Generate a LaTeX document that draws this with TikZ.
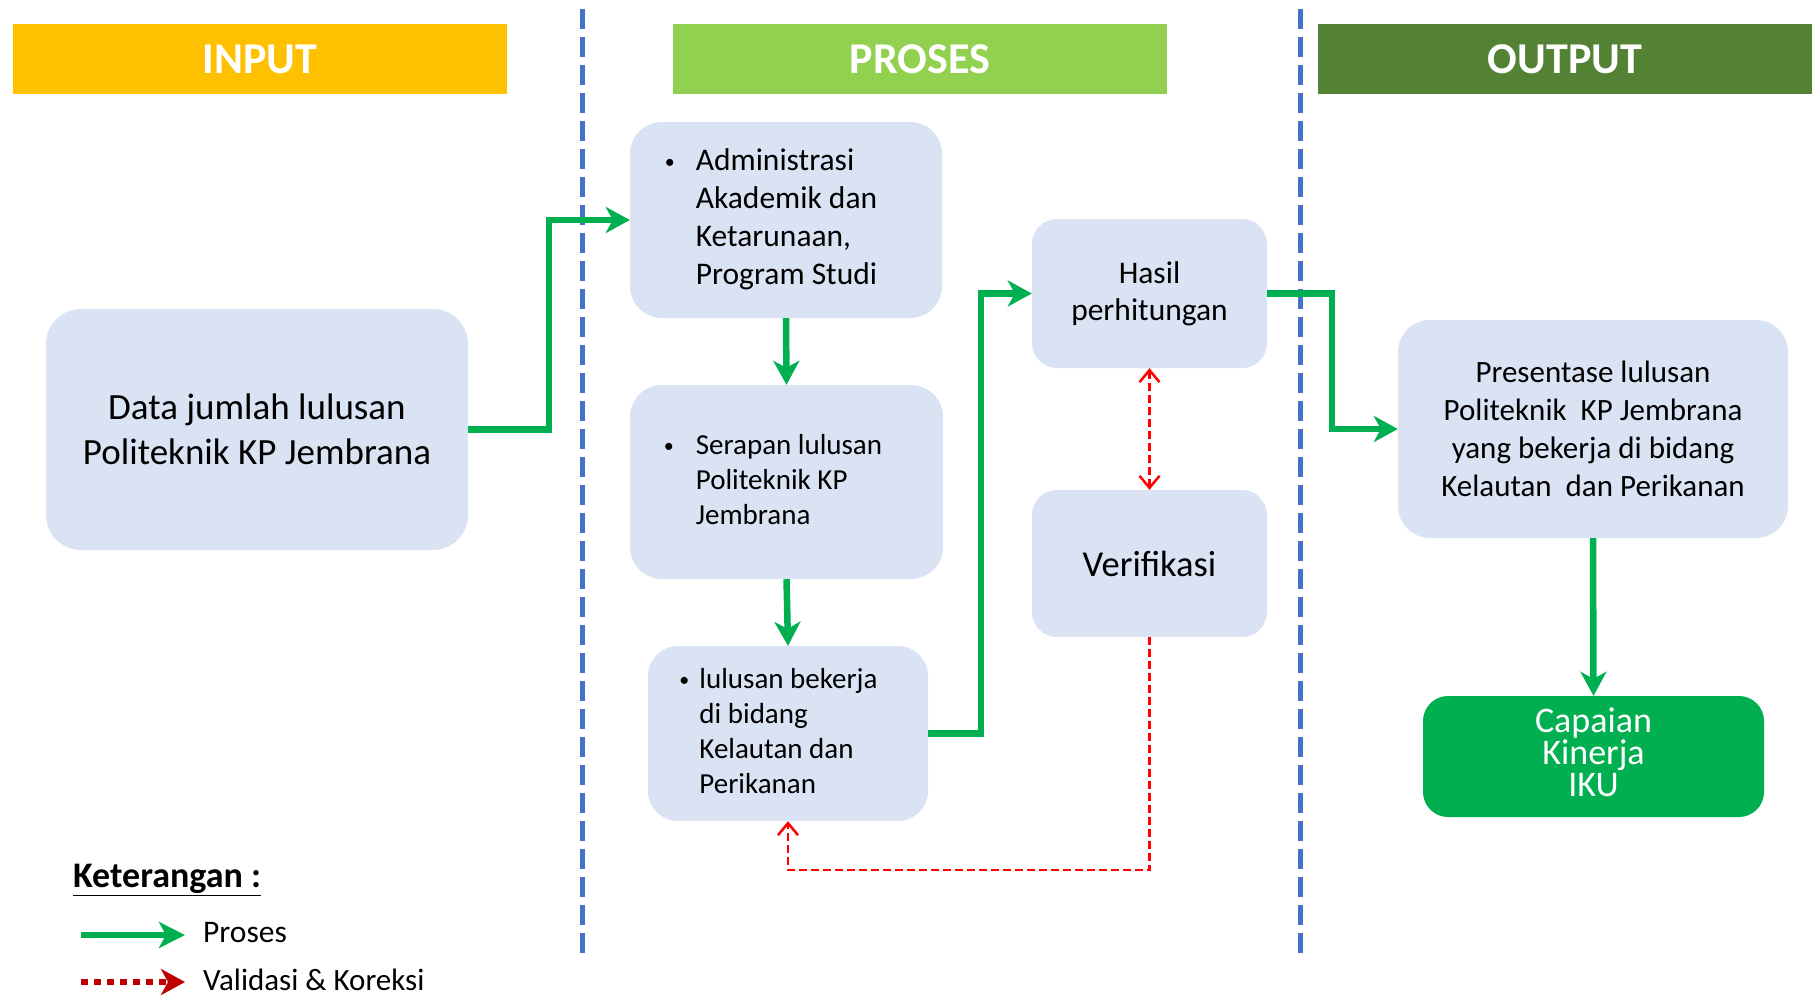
\documentclass[tikz,border=0pt]{standalone}
\usepackage{fontspec}
\setmainfont{Carlito}
\usetikzlibrary{arrows.meta}
\definecolor{boxfill}{HTML}{DAE3F3}
\definecolor{inpcol}{HTML}{FFC000}
\definecolor{procol}{HTML}{92D050}
\definecolor{outcol}{HTML}{548235}
\definecolor{gr}{HTML}{00B050}
\definecolor{sepblue}{HTML}{4472C4}
\definecolor{dred}{HTML}{C00000}
\newcommand{\fs}[2]{\fontsize{#1}{#2}\selectfont}
\newcommand{\bl}[1]{\makebox[#1][l]{\raisebox{2pt}{\fs{20}{20}\textbullet}}}
\begin{document}
\begin{tikzpicture}[x=1pt,y=-1pt,
  hdr/.style={minimum width=494pt, minimum height=70pt, inner sep=0pt, text=white, font=\bfseries\fs{44}{50}},
  box/.style={fill=boxfill, rounded corners=32pt, inner sep=0pt, align=center, text=black},
  proc/.style={draw=gr, line width=6.5pt, -{Stealth[length=24pt,width=26pt,inset=7pt]}},
  valid/.style={draw=red, line width=2.5pt, dash pattern=on 8pt off 4pt, {Straight Barb[length=12pt,width=20pt,line width=2.5pt]}-{Straight Barb[length=12pt,width=20pt,line width=2.5pt]}},
  validone/.style={draw=red, line width=2.5pt, dash pattern=on 8pt off 4pt, -{Straight Barb[length=12pt,width=20pt,line width=2.5pt]}},
  sep/.style={draw=sepblue, line width=5pt, dash pattern=on 20pt off 8pt}
]
\useasboundingbox[fill=white] (0,0) rectangle (1819,1002);

% headers
\node[hdr, fill=inpcol] (hin) at (260,59) {INPUT};
\node[hdr, fill=procol] (hpr) at (920,59) {PROSES};
\node[hdr, fill=outcol] (hout) at (1565,59) {OUTPUT};

% separators
\coordinate (s1a) at (582.5,9); \coordinate (s1b) at (582.5,960);
\coordinate (s2a) at (1300,9); \coordinate (s2b) at (1300,960);
\draw[sep] (s1a) -- (s1b);
\draw[sep] (s2a) -- (s2b);

% boxes
\node[box, rounded corners=35pt, minimum width=422pt, minimum height=241pt, font=\fs{37}{45}] (inp) at (257,429.5)
  {Data jumlah lulusan\\Politeknik KP Jembrana};

\node[box, minimum width=312pt, minimum height=196pt, font=\fs{31.5}{38}] (adm) at (786,220)
  {\begin{tabular}{@{}l@{}l@{\hspace{30pt}}}\bl{31pt} & Administrasi\\ & Akademik dan\\ & Ketarunaan,\\ & Program Studi\end{tabular}};

\node[box, minimum width=313pt, minimum height=194pt, font=\fs{29}{35}] (ser) at (786.5,482)
  {\begin{tabular}{@{}l@{}l@{\hspace{27pt}}}\bl{32pt} & Serapan lulusan\\ & Politeknik KP\\ & Jembrana\end{tabular}};

\node[box, rounded corners=30pt, minimum width=280pt, minimum height=175pt, font=\fs{29}{35}] (lul) at (788,733.5)
  {\begin{tabular}{@{}l@{}l@{\hspace{19pt}}}\bl{20pt} & lulusan bekerja\\ & di bidang\\ & Kelautan dan\\ & Perikanan\end{tabular}};

\node[box, rounded corners=25pt, minimum width=235pt, minimum height=149pt, font=\fs{31.5}{37}] (has) at (1149.5,293.5)
  {Hasil\\perhitungan};

\node[box, rounded corners=25pt, minimum width=235pt, minimum height=147pt, font=\fs{36.5}{42}] (ver) at (1149.5,563.5)
  {Verifikasi};

\node[box, rounded corners=32pt, minimum width=390pt, minimum height=218pt, font=\fs{31}{38}] (pres) at (1593,429)
  {Presentase lulusan\\Politeknik\ \ KP Jembrana\\yang bekerja di bidang\\Kelautan\ \ dan Perikanan};

\node[box, fill=gr, rounded corners=25pt, minimum width=341pt, minimum height=121pt] (cap) at (1593.5,756.5) {};
\node[inner sep=0pt, align=center, text=white, font=\fs{36}{32}] (capt) at (1593.5,752.5)
  {Capaian\\Kinerja\\IKU};

% process arrows
\draw[proc] (inp.east) -- ++(81,0) |- (adm.west);
\draw[proc] (adm.south) -- (ser.north);
\draw[proc] (ser.south) -- (lul.north);
\draw[proc] (lul.east) -- ++(53,0) |- (has.west);
\draw[proc] (has.east) -- ++(65,0) |- (pres.west);
\draw[proc] (pres.south) -- (cap.north);

% validation arrows
\draw[valid] (has.south) -- (ver.north);
\draw[validone] (ver.south) -- ++(0,233) -| (lul.south);

% legend
\node[anchor=west, inner sep=0pt, font=\bfseries\fs{36}{40}] (ket) at (73,880) {\underline{Keterangan :}};
\coordinate (la1) at (81,935); \coordinate (la2) at (185,935);
\coordinate (lb1) at (81,982); \coordinate (lb2) at (185,982);
\draw[draw=gr, line width=6.5pt, -{Stealth[length=26pt,width=26pt,inset=7pt]}] (la1) -- (la2);
\draw[draw=dred, line width=6.5pt, dash pattern=on 7pt off 6pt, -{Stealth[length=24pt,width=26pt,inset=7pt]}] (lb1) -- (lb2);
\node[anchor=west, inner sep=0pt, font=\fs{31.5}{36}] (lp) at (203,932) {Proses};
\node[anchor=west, inner sep=0pt, font=\fs{31}{36}] (lv) at (203,980) {Validasi \& Koreksi};
\end{tikzpicture}
\end{document}
